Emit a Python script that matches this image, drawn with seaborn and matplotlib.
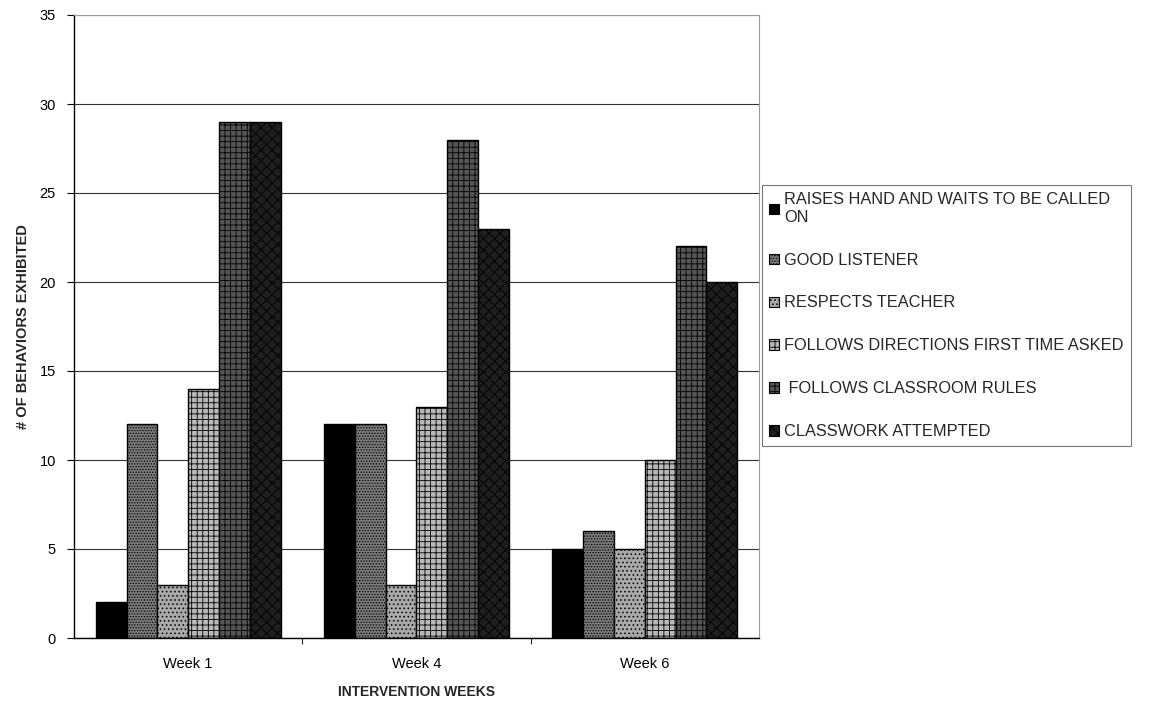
import matplotlib
matplotlib.use("Agg")
import matplotlib.pyplot as plt
import seaborn as sns
import pandas as pd
from matplotlib.patches import Patch

weeks = ["Week 1", "Week 4", "Week 6"]
behaviors = [
    "RAISES HAND AND WAITS TO BE CALLED\nON",
    "GOOD LISTENER",
    "RESPECTS TEACHER",
    "FOLLOWS DIRECTIONS FIRST TIME ASKED",
    " FOLLOWS CLASSROOM RULES",
    "CLASSWORK ATTEMPTED",
]
raises_hand = [2, 12, 5]
good_listener = [12, 12, 6]
respects_teacher = [3, 3, 5]
follows_directions = [14, 13, 10]
follows_rules = [29, 28, 22]
classwork = [29, 23, 20]

series = [raises_hand, good_listener, respects_teacher,
          follows_directions, follows_rules, classwork]

rows = []
for name, vals in zip(behaviors, series):
    for wk, v in zip(weeks, vals):
        rows.append({"week": wk, "behavior": name, "count": v})
df = pd.DataFrame(rows)

sns.set_theme(style="white")
plt.rcParams["font.family"] = ["Liberation Sans", "DejaVu Sans"]
plt.rcParams["hatch.linewidth"] = 0.6

fills = ["#000000", "#7a7a7a", "#a8a8a8", "#b8b8b8", "#555555", "#1e1e1e"]
hatches = [None, "......", "....", "+++", "+++", "xxx"]

fig = plt.figure(figsize=(11.62, 7.02), dpi=100)
ax = fig.add_axes([74 / 1162, 1 - 638 / 702, 685 / 1162, 623 / 702])

sns.barplot(data=df, x="week", y="count", hue="behavior", order=weeks,
            hue_order=behaviors, palette=fills, width=0.81, ax=ax,
            edgecolor="black", linewidth=1.0, legend=False, saturation=1)

for cont, fc, h in zip(ax.containers, fills, hatches):
    for bar in cont:
        bar.set_facecolor(fc)
        bar.set_edgecolor("black")
        if h:
            bar.set_hatch(h)

ax.set_ylim(0, 35)
ax.set_yticks(range(0, 36, 5))
ax.yaxis.grid(True, color="#333333", linewidth=0.8)
ax.set_axisbelow(True)
ax.set_xlim(-0.5, 2.5)
ax.tick_params(axis="both", labelsize=10.5, colors="black")
ax.tick_params(axis="y", left=True, direction="out", width=0.8, length=5, pad=8)
ax.set_xticks([0.5, 1.5], minor=True)
ax.tick_params(axis="x", which="minor", bottom=True, direction="out",
               length=4, width=0.8)
ax.tick_params(axis="x", which="major", length=0, pad=14)
ax.set_xlabel("INTERVENTION WEEKS", fontsize=10, fontweight="bold", labelpad=10)
ax.set_ylabel("# OF BEHAVIORS EXHIBITED", fontsize=10.5, fontweight="bold",
              labelpad=7)

for side in ["top", "right"]:
    ax.spines[side].set_color("#9a9a9a")
    ax.spines[side].set_linewidth(0.8)
for side in ["left", "bottom"]:
    ax.spines[side].set_color("black")
    ax.spines[side].set_linewidth(1.0)

handles = [Patch(facecolor=fc, edgecolor="black", hatch=h, linewidth=0.8)
           for fc, h in zip(fills, hatches)]
leg = fig.legend(handles, behaviors, loc="upper left",
                 bbox_to_anchor=(762 / 1162, 1 - 185 / 702),
                 frameon=True, fancybox=False, fontsize=11.8,
                 handlelength=0.6, handleheight=0.6, handletextpad=0.3,
                 labelspacing=1.7, borderpad=0.45, borderaxespad=0)
leg.get_frame().set_edgecolor("#555555")
leg.get_frame().set_linewidth(0.8)

fig.savefig("out.png", dpi=100)
